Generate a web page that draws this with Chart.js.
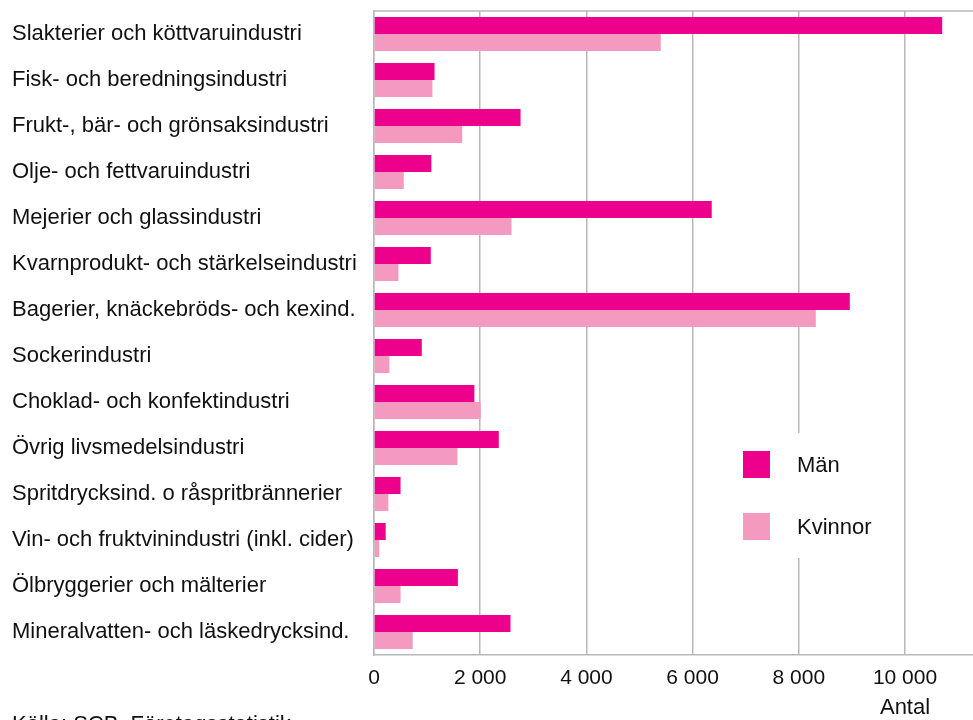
<!DOCTYPE html>
<html>
<head>
<meta charset="utf-8">
<script src="https://cdn.jsdelivr.net/npm/chart.js@4"></script>
<style>
  html, body { margin: 0; padding: 0; background: #fff; }
  #wrap { width: 973px; height: 720px; position: relative; }
</style>
</head>
<body>
<div id="wrap"><canvas id="chart"></canvas></div>
<script>
const categories = [
  'Slakterier och köttvaruindustri',
  'Fisk- och beredningsindustri',
  'Frukt-, bär- och grönsaksindustri',
  'Olje- och fettvaruindustri',
  'Mejerier och glassindustri',
  'Kvarnprodukt- och stärkelseindustri',
  'Bagerier, knäckebröds- och kexind.',
  'Sockerindustri',
  'Choklad- och konfektindustri',
  'Övrig livsmedelsindustri',
  'Spritdrycksind. o råspritbrännerier',
  'Vin- och fruktvinindustri (inkl. cider)',
  'Ölbryggerier och mälterier',
  'Mineralvatten- och läskedrycksind.'
];
const man = [10700, 1140, 2760, 1080, 6360, 1070, 8960, 900, 1890, 2350, 500, 220, 1580, 2570];
const kvinnor = [5400, 1100, 1660, 560, 2590, 460, 8320, 290, 2010, 1570, 270, 100, 500, 730];
const xTicks = [0, 2000, 4000, 6000, 8000, 10000];
const xTickLabels = ['0', '2 000', '4 000', '6 000', '8 000', '10 000'];
const unitLabel = 'Antal';
const sourceText = 'Källa: SCB, Företagsstatistik';

const FONT = '"Liberation Sans", Arial, Helvetica, sans-serif';
const GRID = '#b8b8b8';

// legend, frame line and captions drawn on top
const extras = {
  id: 'extras',
  afterDraw(chart) {
    const ctx = chart.ctx;
    const area = chart.chartArea;
    const x = chart.scales.x;
    ctx.save();
    // top frame line
    ctx.strokeStyle = GRID;
    ctx.lineWidth = 1.5;
    ctx.beginPath();
    ctx.moveTo(area.left, area.top);
    ctx.lineTo(chart.width, area.top);
    ctx.stroke();

    // legend box
    ctx.fillStyle = '#fff';
    ctx.fillRect(722, 433, 165, 125);
    chart.data.datasets.forEach((ds, i) => {
      const y = 451 + i * 62;
      ctx.fillStyle = ds.backgroundColor;
      ctx.fillRect(743, y, 27, 27);
      ctx.fillStyle = '#111';
      ctx.font = '22px ' + FONT;
      ctx.textBaseline = 'middle';
      ctx.textAlign = 'left';
      ctx.fillText(ds.label, 797, y + 15);
    });

    // unit label under last tick
    ctx.fillStyle = '#111';
    ctx.font = '22px ' + FONT;
    ctx.textAlign = 'center';
    ctx.textBaseline = 'middle';
    ctx.fillText(unitLabel, x.getPixelForValue(10000), 708);

    // source (cut by the bottom edge)
    ctx.textAlign = 'left';
    ctx.textBaseline = 'top';
    ctx.fillText(sourceText, 12, 714);
    ctx.restore();
  }
};

new Chart(document.getElementById('chart'), {
  type: 'bar',
  data: {
    labels: categories,
    datasets: [
      { label: 'Män', data: man, backgroundColor: '#EC008C', barPercentage: 1.0, categoryPercentage: 0.74 },
      { label: 'Kvinnor', data: kvinnor, backgroundColor: '#F49AC1', barPercentage: 1.0, categoryPercentage: 0.74 }
    ]
  },
  options: {
    indexAxis: 'y',
    responsive: true,
    maintainAspectRatio: false,
    animation: false,
    layout: { padding: { left: 12, top: 11, right: 0, bottom: 0 } },
    plugins: {
      legend: { display: false },
      tooltip: { enabled: false }
    },
    scales: {
      x: {
        min: 0,
        max: 11280,
        afterBuildTicks(scale) {
          scale.ticks = xTicks.map(v => ({ value: v }));
        },
        afterFit(scale) {
          scale.height = 65;
          scale.paddingLeft = 0;
          scale.paddingRight = 0;
        },
        grid: { color: GRID, lineWidth: 1.5, drawTicks: false },
        border: { display: true, color: GRID, width: 1.5 },
        ticks: {
          padding: 11,
          color: '#111',
          font: { family: FONT, size: 21 },
          callback: (v) => xTickLabels[xTicks.indexOf(v)] ?? ''
        }
      },
      y: {
        afterFit(scale) {
          scale.width = 362;
          scale.paddingTop = 0;
          scale.paddingBottom = 0;
        },
        grid: { display: false },
        border: { display: true, color: GRID, width: 1.5 },
        ticks: {
          crossAlign: 'far',
          color: '#111',
          font: { family: FONT, size: 22 },
          autoSkip: false
        }
      }
    }
  },
  plugins: [extras]
});
</script>
</body>
</html>
